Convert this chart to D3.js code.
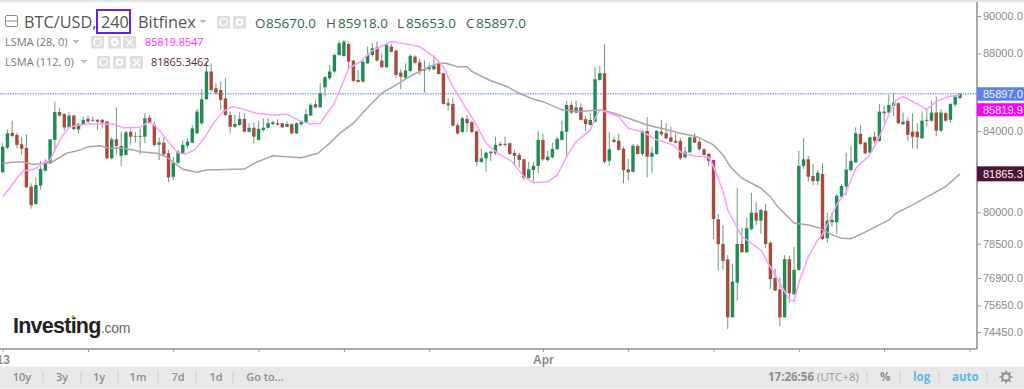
<!DOCTYPE html>
<html>
<head>
<meta charset="utf-8">
<script src="https://cdnjs.cloudflare.com/ajax/libs/d3/7.8.5/d3.min.js"></script>
<style>
  html, body { margin: 0; padding: 0; background: #fff; }
  svg { display: block; }
  text { font-family: "Open Sans", sans-serif; }
  .axis text { font-family: "Liberation Sans", Arial, sans-serif; }
</style>
</head>
<body>
<svg id="chart" width="1024" height="389"></svg>
<script>
// BTC/USD 240 minute candles
const opens = [
  81940,83160,83900,83800,83330,83150,81240,80400,81290,82020,
  82380,83550,84960,84850,84180,84780,84080,84340,84620,84520,
  84560,84560,84470,82630,83580,82760,82800,83950,83710,83710,
  83710,84670,84300,83310,83410,82880,81720,82410,82880,83260,
  83410,83880,84390,85610,87050,86180,86090,85660,84810,84210,
  84300,84610,83960,84160,83550,84050,84160,84350,84390,84390,
  84210,84340,83880,84340,84420,84780,85360,85200,86230,86700,
  87050,87920,87870,88500,87620,86610,86520,87480,87920,88320,
  87620,87270,88360,88150,86990,86730,87080,87830,87530,87100,
  87170,87170,87480,86960,85410,85370,84290,83950,84610,84440,
  83980,82450,82630,82880,82880,83350,83350,83380,82900,82800,
  82580,81660,82050,82260,83550,82550,82680,83080,83550,83960,
  85320,84930,85200,84590,84300,84470,86610,86960,82510,83450,
  83510,83110,82080,81970,83250,82850,84000,82700,82850,83960,
  83880,83680,83500,83500,82680,82930,83680,83460,83080,82850,
  82550,79660,78490,77770,75110,76690,78490,78100,79190,79980,
  79600,80070,78550,76900,76380,75110,77770,76160,77280,82260,
  82580,81760,81510,81860,78760,79520,79520,80750,81240,82050,
  82430,83850,83410,82910,83710,83500,84980,84930,85270,85410,
  84340,84510,83960,83960,83630,84510,84520,84930,84010,84900,
  84560,85340,85670];
const highs = [
  83380,84080,84520,83910,83680,83830,81400,81690,82500,82580,
  83580,85490,85150,84900,84950,84810,84420,84730,84780,84730,
  84610,84610,84520,83680,85200,83960,84010,84080,83960,84130,
  84900,84810,84470,83680,83680,83050,82710,83050,83510,83630,
  84300,85100,86120,87570,87480,86440,86520,86700,84980,84810,
  84950,84900,84390,84420,84520,84640,84640,84520,84590,84390,
  84470,84390,84420,84560,85100,85410,85540,86440,86820,87390,
  88000,88680,88720,88630,87650,87130,87655,88360,88540,88630,
  88010,88500,88500,88180,87170,87480,87970,87900,87740,87650,
  87480,87870,87620,86990,85660,85660,84390,84730,84810,84520,
  84010,83130,82960,83010,83710,83460,83710,83410,83050,82910,
  82610,82460,82460,84010,83850,83010,83410,83710,84520,85530,
  85490,85540,85410,84760,84900,87300,87340,88500,83960,83710,
  83850,83210,82630,83350,83330,84050,84700,83210,84050,84560,
  84390,84210,83880,83650,83210,83710,83880,83630,83130,82910,
  82550,79910,79390,77970,77560,81180,79250,79730,80940,80460,
  80160,80400,78600,77330,76910,77970,77940,78350,83000,83630,
  82750,82350,82050,82400,79980,79980,80880,81370,82910,83250,
  84180,84300,83460,83710,83960,85370,85270,85830,85950,85440,
  84930,84690,84900,84390,84980,85150,85540,85750,85100,84980,
  85420,85830,85918];
const lows = [
  81890,83080,83680,83130,82800,81160,80170,80350,81080,81970,
  82350,82960,84730,84010,84130,84050,83880,84300,84420,84470,
  84050,84130,82600,82580,82800,82260,82760,83300,83410,82830,
  83380,84350,83210,82550,82750,81450,81560,82350,82850,83130,
  83380,83830,84300,85580,86000,85830,85070,84760,83880,84130,
  84250,83930,83930,83380,83510,83960,84130,84300,84290,84150,
  84180,83850,83850,84250,84420,84760,85150,85170,85750,86610,
  86990,87870,87830,87220,86490,86470,86490,87450,87830,87570,
  87240,87250,88060,86700,86120,86700,87030,87450,86870,85950,
  87050,87100,86890,85340,85030,84210,83800,83910,83950,83880,
  82250,82410,81970,82510,82800,83210,83210,82800,82300,82180,
  81560,81630,81480,81900,82510,82460,82630,83050,83510,82630,
  84860,84900,84520,83960,84270,84420,86570,82380,82260,83410,
  83010,81400,81530,81930,82810,82750,81690,81900,82800,83750,
  83580,83430,83380,82550,82630,82900,83380,83010,82750,82250,
  78720,77240,77280,74590,75110,75860,78080,78080,79120,79390,
  78970,78300,76400,76310,74720,75110,75770,76120,77230,82100,
  81480,81320,81320,78680,78550,79310,78970,80740,80830,81970,
  82410,83300,82800,82880,83380,83460,84420,84900,84760,84350,
  84300,83510,83130,83080,83600,84210,84470,83750,83960,84450,
  84420,85220,85653];
const closes = [
  83210,83880,83750,83300,83110,81210,80340,81320,82100,82460,
  83580,84960,84780,84180,84780,84100,84350,84560,84470,84560,
  84470,84420,82630,83580,83250,83250,83930,83710,83750,83750,
  84640,84420,83300,83430,82830,81690,82410,82960,83300,83460,
  84130,84980,85610,87050,86090,85950,85580,84810,84210,84350,
  84610,83960,84160,83710,84100,84160,84390,84440,84320,84180,
  84350,83880,84390,84470,84850,85320,85200,85920,86750,87050,
  87920,88540,88630,87570,86560,86510,87565,87920,88270,87620,
  87270,88450,88090,86870,86780,87100,87870,87510,87080,87170,
  87270,87340,86920,85370,85300,84270,83880,84640,84390,83950,
  82450,82630,82910,82960,83300,83280,83300,82850,82760,82550,
  81670,82080,82260,83550,82580,82710,83100,83600,83980,85320,
  84930,85200,84560,84350,84560,86650,86960,82460,83080,83550,
  83050,82050,81940,83260,82850,84000,82710,82910,84000,83830,
  83630,83460,83410,82630,82960,83680,83410,83080,82800,82500,
  79680,78480,77690,75110,76740,78490,78100,79240,79980,79600,
  80110,78490,76850,76320,75110,77770,76200,77280,82260,82580,
  81720,81510,81920,78720,79600,79630,80790,81270,82080,82500,
  83880,83350,82880,83680,83500,84980,84900,85320,85440,84390,
  84470,83800,83710,83680,84520,84560,84930,84010,84930,84520,
  85370,85750,85897];

// the two LSMA overlays, sampled at bends along each line
const lsma28Bars = [
  0,1.5,3,4.5,6,7,8.5,10,11,12.5,14,16,18,20.5,23.5,25.5,27.5,29,30.5,31.5,
  33,35.5,37,38.5,40.5,42.5,44.5,46.5,48.5,50.5,53.5,57,60,62.5,65,67,68.5,70,71,72,
  73,75.5,78,82,85.5,88,91,93,95,98,100,102,104.5,107.5,110,112,115,117,119,121,
  124,125,126,130,132,135,138,141.5,143,146,149,150,152,153,156,160,161.5,164,166,167,
  168,170,172,173,176,178,180,183,185,187,188.5,190,192,195,197,199.5,202];
const lsma28 = [
  80750,81170,81660,82015,82050,82130,82400,82550,83050,83710,84180,84300,84350,84350,84340,84160,84160,84180,84420,84390,
  84050,83300,82910,82830,83050,83630,84390,84980,85240,85120,84900,84810,84850,84520,84350,84390,84900,85410,86000,86610,
  87220,87565,88150,88630,88490,88360,87830,87300,86260,85070,84300,83380,82880,82460,81720,81430,81480,81800,82710,83460,
  84050,84640,85070,84730,84130,83960,83550,83300,82950,82750,82680,82220,81030,80110,78840,78210,77600,76680,75900,75850,
  76680,77900,78680,78920,80370,81000,82130,82800,83710,84810,85577,85750,85490,85100,85490,85750,85819.9];
const lsma112Bars = [
  0,2,4,6.5,8.5,10.5,13.5,16.5,18,20.5,22.5,25.5,27.5,29,32.5,34.5,38,41,43,51,
  53.5,57,60,63,66.5,69,71,74,77.5,80,83,86.5,90,92,93.5,96,98,99,103,106.5,
  109,112,114,118,122,126,129,132,136,139.5,143,146.5,150,152,153.5,156,160,162,163.5,167,
  170,172.5,175,177,179,182,187,188.5,192,196.5,199,202];
const lsma112 = [
  82380,82430,82460,82330,82380,82460,82880,83050,83210,83250,83130,83130,83050,82960,82880,82710,82085,81940,82050,82100,
  82430,82760,82710,82660,82880,83380,83850,84390,85320,85920,86350,86870,87300,87480,87480,87300,87300,87050,86570,86260,
  85920,85610,85490,85070,84980,85070,84900,84640,84300,84100,83880,83710,83300,82800,82220,81650,81160,80750,80270,79480,
  79390,79240,78920,78760,78740,79050,79630,79950,80350,80920,81240,81865.3];

const priceTicks = [90000, 88000, 84000, 80000, 78500, 76900, 75650, 74450];
const timeTicks = [0, 18, 36, 54, 72, 90, 114, 132, 150, 168, 186, 204];
const timeLabels = { 0: "13", 114: "Apr" };
const rangeButtons = ["10y", "3y", "1y", "1m", "7d", "1d", "Go to..."];
const ohlcLast = [["O", "85670.0"], ["H", "85918.0"], ["L", "85653.0"], ["C", "85897.0"]];

const svg = d3.select("#chart");
const plotRight = 977, plotBottom = 349;

const x = d3.scaleLinear().domain([-0.57, 205.6]).range([0, plotRight]);
const y = d3.scaleLog().domain([90000, 74450]).range([16, 332]);

const green = "#1f8c56", red = "#a94a3d", wick = "#70997f";

// frame
svg.append("rect").attr("x", 0).attr("y", 0).attr("width", 1024).attr("height", 2).attr("fill", "#e4e4e4");
svg.append("rect").attr("x", 0).attr("y", 366.5).attr("width", 1024).attr("height", 22).attr("fill", "#e8e8e8");

// current price line
svg.append("line")
  .attr("x1", 0).attr("x2", plotRight)
  .attr("y1", y(85897)).attr("y2", y(85897))
  .attr("stroke", "#8fa9ee").attr("stroke-width", 1.3).attr("stroke-dasharray", "1.5,1");

// candles
const bars = d3.range(opens.length);
svg.append("g").selectAll("line").data(bars).enter().append("line")
  .attr("x1", i => x(i)).attr("x2", i => x(i))
  .attr("y1", i => y(highs[i])).attr("y2", i => y(lows[i]))
  .attr("stroke", wick).attr("stroke-width", 1);

svg.append("g").selectAll("rect").data(bars).enter().append("rect")
  .attr("x", i => x(i) - 1.7).attr("width", 3.4)
  .attr("y", i => y(Math.max(opens[i], closes[i])))
  .attr("height", i => Math.max(0.8, y(Math.min(opens[i], closes[i])) - y(Math.max(opens[i], closes[i]))))
  .attr("fill", i => closes[i] >= opens[i] ? green : red);

// overlays
const drawLine = (bx, vals, color) => {
  const line = d3.line().x(d => x(d[0])).y(d => y(d[1]));
  svg.append("path")
    .attr("d", line(bx.map((b, k) => [b, vals[k]])))
    .attr("fill", "none").attr("stroke", color).attr("stroke-width", 1.5);
};
drawLine(lsma112Bars, lsma112, "#b89dac");
drawLine(lsma28Bars, lsma28, "#ff9bff");

// axes
const yAxis = d3.axisRight(y).tickValues(priceTicks).tickFormat(d3.format(".1f")).tickSize(4).tickPadding(2);
const gy = svg.append("g").attr("class", "axis").attr("transform", `translate(${plotRight},0)`).call(yAxis);
gy.select(".domain").attr("d", `M0,2V${plotBottom}`).attr("stroke", "#8c8c8c").attr("stroke-width", 1.5);
gy.selectAll(".tick line").attr("stroke", "#999");
gy.selectAll("text").attr("font-size", 11).attr("fill", "#8b8b8b");

const xAxis = d3.axisBottom(x).tickValues(timeTicks).tickFormat(d => timeLabels[d] || "").tickSize(3).tickPadding(3);
const gx = svg.append("g").attr("class", "axis").attr("transform", `translate(0,${plotBottom})`).call(xAxis);
gx.select(".domain").attr("d", `M0,0H${plotRight}`).attr("stroke", "#8c8c8c").attr("stroke-width", 1.5);
gx.selectAll(".tick line").attr("stroke", "#999");
gx.selectAll("text").attr("font-size", 12).attr("font-weight", "bold").attr("fill", "#8b8b8b");

// price tags on the right
const tag = (top, h, bg, label) => {
  svg.append("rect").attr("x", plotRight).attr("y", top).attr("width", 47).attr("height", h).attr("fill", bg);
  svg.append("text").attr("x", 983).attr("y", top + h / 2 + 4)
    .style("font-family", "Liberation Sans").attr("font-size", 11).attr("fill", "#f4f4f4").text(label);
};
tag(y(85897) - 6.5, 13.5, "#5b82e8", "85897.0");
tag(y(85897) + 9.5, 13, "#ff00ff", "85819.9");
tag(y(81865.3) - 7.5, 15, "#4c1434", "81865.3");

// legend
const txt = (tx, ty, s, size, fill, weight) => svg.append("text")
  .attr("x", tx).attr("y", ty).attr("font-size", size).attr("fill", fill)
  .attr("font-weight", weight || "normal").text(s);

svg.append("rect").attr("x", 5.5).attr("y", 15.5).attr("width", 12).attr("height", 11).attr("rx", 1.5)
  .attr("fill", "none").attr("stroke", "#8a8a8a");
svg.append("line").attr("x1", 5.5).attr("x2", 17.5).attr("y1", 21).attr("y2", 21).attr("stroke", "#8a8a8a");

txt(24, 28, "BTC/USD,", 16.3, "#555");
svg.append("rect").attr("x", 97).attr("y", 10).attr("width", 33).attr("height", 23)
  .attr("fill", "none").attr("stroke", "#6a1fd8").attr("stroke-width", 2);
txt(101, 28, "240", 16.3, "#555");
txt(138, 28, "Bitfinex", 16.3, "#555");

const caret = (cx, cy) => svg.append("path")
  .attr("d", `M${cx - 3.5},${cy}h7l-3.5,3.5z`).attr("fill", "#bbb");
caret(203, 20); caret(76, 40); caret(84, 60);

const icon = (ix, iy, kind) => {
  svg.append("rect").attr("x", ix).attr("y", iy).attr("width", 13).attr("height", 12.5).attr("fill", "#dedede");
  if (kind == "x") {
    svg.append("path").attr("d", `M${ix + 3},${iy + 3}l7,7m0,-7l-7,7`).attr("stroke", "#fff").attr("stroke-width", 1.4);
  } else {
    svg.append("circle").attr("cx", ix + 6.5).attr("cy", iy + 6.2).attr("r", kind == "eye" ? 3.5 : 2.8)
      .attr("fill", "none").attr("stroke", "#fff").attr("stroke-width", kind == "eye" ? 1.2 : 2.2);
  }
};
icon(217, 16, "eye"); icon(233, 16, "gear");
icon(91, 36, "eye"); icon(108, 36, "gear"); icon(123, 36, "x");
icon(97, 56, "eye"); icon(113, 56, "gear"); icon(130, 56, "x");

const ohlcX = [[255, 266], [326, 338], [397, 406], [466, 476]];
ohlcLast.forEach((d, k) => {
  txt(ohlcX[k][0], 28, d[0], 13.5, "#555");
  txt(ohlcX[k][1], 28, d[1], 13.5, "#2f6b4b");
});

txt(5, 46, "LSMA (28, 0)", 11, "#777");
txt(145, 46, "85819.8547", 10.8, "#ff2bff");
txt(5, 66, "LSMA (112, 0)", 11, "#777");
txt(151, 66, "81865.3462", 10.8, "#5a2343");

// logo
svg.append("text").attr("x", 13).attr("y", 332.5)
  .style("font-family", "Liberation Sans").attr("font-size", 21.5).attr("font-weight", "bold")
  .attr("letter-spacing", -0.75).attr("fill", "#222").text("Investing");
svg.append("text").attr("x", 101).attr("y", 332.5)
  .style("font-family", "Liberation Sans").attr("font-size", 14).attr("letter-spacing", -0.3)
  .attr("fill", "#666").text(".com");
svg.append("circle").attr("cx", 73).attr("cy", 316.5).attr("r", 1.5).attr("fill", "#f5a623");

// bottom toolbar
const btnX = [22, 62, 99, 138, 178, 216, 265];
rangeButtons.forEach((b, k) => {
  svg.append("text").attr("x", btnX[k]).attr("y", 381).attr("text-anchor", "middle")
    .attr("font-size", 11).attr("font-weight", 600).attr("fill", "#8e8e8e").text(b);
});
[43, 81, 118, 158, 196, 233, 867, 900, 939, 987].forEach(sx => {
  svg.append("line").attr("x1", sx).attr("x2", sx).attr("y1", 371).attr("y2", 384).attr("stroke", "#cfcfcf");
});
txt(768, 381, "17:26:56", 11.5, "#8e8e8e", "bold");
txt(817, 381, "(UTC+8)", 11.5, "#9a9a9a");
txt(880, 381, "%", 11.5, "#8e8e8e", "bold");
txt(913, 381, "log", 11.5, "#5cb8e8", "bold");
txt(952, 381, "auto", 11.5, "#5cb8e8", "bold");

// settings gear
svg.append("circle").attr("cx", 1006).attr("cy", 377).attr("r", 3.8).attr("fill", "none").attr("stroke", "#8e8e8e").attr("stroke-width", 2);
d3.range(8).forEach(k => {
  const a = k * Math.PI / 4;
  svg.append("line")
    .attr("x1", 1006 + 4.5 * Math.cos(a)).attr("y1", 377 + 4.5 * Math.sin(a))
    .attr("x2", 1006 + 6.5 * Math.cos(a)).attr("y2", 377 + 6.5 * Math.sin(a))
    .attr("stroke", "#8e8e8e").attr("stroke-width", 1.5);
});
</script>
</body>
</html>
